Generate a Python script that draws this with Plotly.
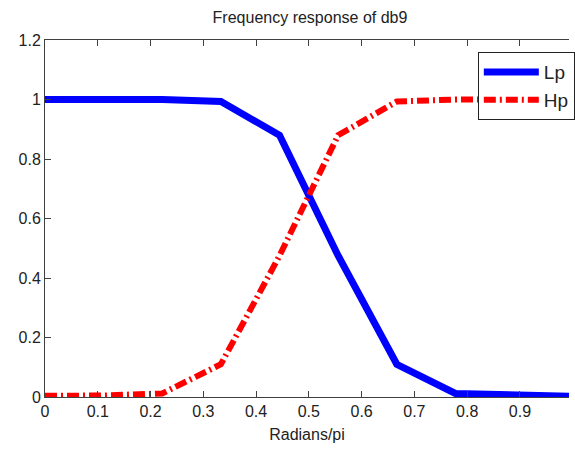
import plotly.graph_objects as go

freq = [0.0, 1/9, 2/9, 3/9, 4/9, 5/9, 6/9, 7/9, 8/9, 1.0]
lp = [1.0, 1.0, 1.0, 0.993, 0.88, 0.475, 0.11, 0.012, 0.005, 0.002]
hp = [0.004, 0.005, 0.012, 0.11, 0.475, 0.88, 0.993, 1.0, 1.0, 1.0]

x_ticks = [0, 0.1, 0.2, 0.3, 0.4, 0.5, 0.6, 0.7, 0.8, 0.9]
x_labels = ["0", "0.1", "0.2", "0.3", "0.4", "0.5", "0.6", "0.7", "0.8", "0.9"]
y_ticks = [0, 0.2, 0.4, 0.6, 0.8, 1.0, 1.2]
y_labels = ["0", "0.2", "0.4", "0.6", "0.8", "1", "1.2"]

FONT = "Liberation Sans, Arial, sans-serif"

fig = go.Figure()
fig.add_trace(go.Scatter(x=freq, y=lp, mode="lines", name="Lp",
                         line=dict(color="#0000ff", width=7)))
fig.add_trace(go.Scatter(x=freq, y=hp, mode="lines", name="Hp",
                         line=dict(color="#ff0000", width=6, dash="12px,4px,2px,4px")))

axis_common = dict(showgrid=False, zeroline=False, showline=True, linecolor="#404040",
                   linewidth=1, ticks="inside", ticklen=6, tickcolor="#404040",
                   automargin=False,
                   tickfont=dict(family=FONT, size=16, color="#222"))

fig.update_layout(
    width=575, height=451,
    margin=dict(l=45, r=0, t=40, b=54),
    paper_bgcolor="white", plot_bgcolor="white",
    title=dict(text="Frequency response of db9", x=(310 / 575), xanchor="center",
               y=1 - 17 / 451, yanchor="middle",
               font=dict(family=FONT, size=16, color="#222")),
    xaxis=dict(range=[0, 0.993], tickvals=x_ticks, ticktext=x_labels, mirror="ticks",
               title=dict(text="Radians/pi", font=dict(family=FONT, size=16, color="#222"), standoff=9),
               **axis_common),
    yaxis=dict(range=[0, 1.2], tickvals=y_ticks, ticktext=y_labels, **axis_common),
    legend=dict(x=0.826, y=0.966, xanchor="left", yanchor="top",
                bgcolor="white", bordercolor="#222", borderwidth=1,
                font=dict(family=FONT, size=19, color="#222"),
                itemwidth=55, tracegroupgap=0),
    showlegend=True,
)

fig.write_html("out.html", config={"displayModeBar": False},
               post_script="document.body.style.margin='0';document.body.style.overflow='hidden';")
